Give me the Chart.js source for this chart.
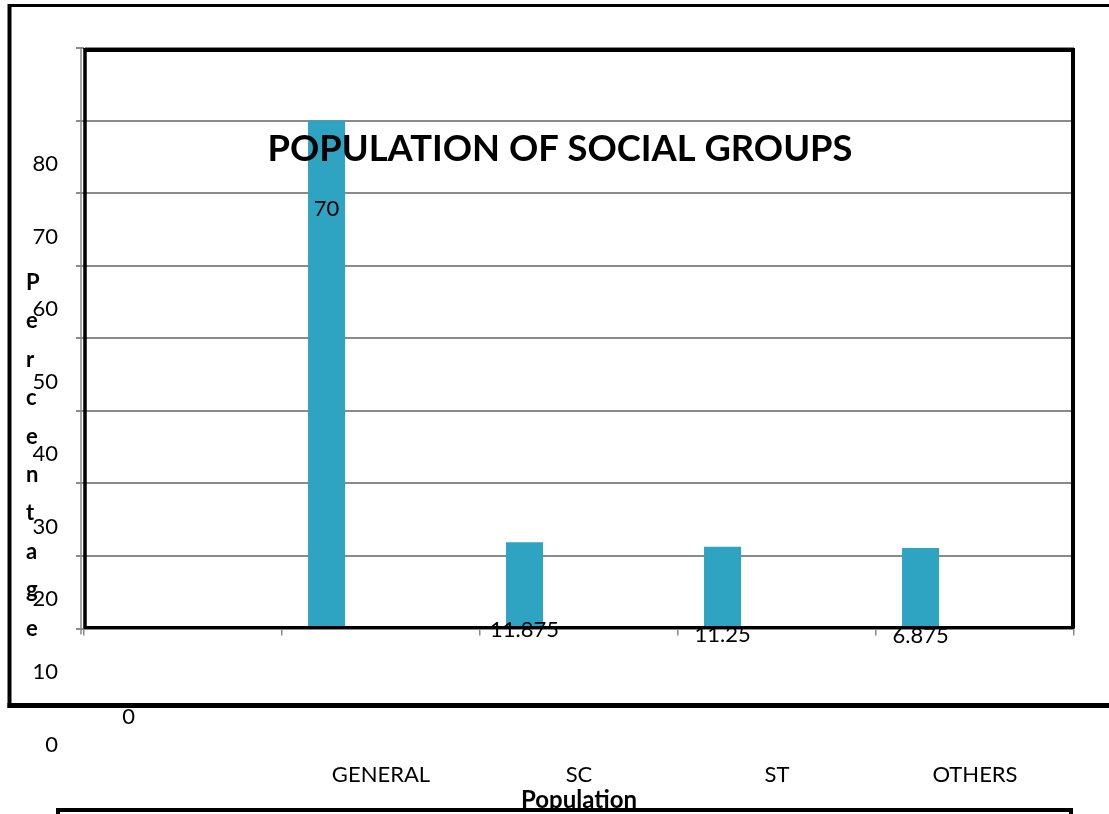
<!DOCTYPE html>
<html>
<head>
<meta charset="utf-8">
<script src="https://cdn.jsdelivr.net/npm/chart.js@4.4.0/dist/chart.umd.min.js"></script>
<style>
  body { margin: 0; background: #fff; }
  canvas { display: block; }
</style>
</head>
<body>
<canvas id="myChart" width="1109" height="814"></canvas>
<script>
// social groups (first slot is empty in the original)
const groups = ["", "GENERAL", "SC", "ST", "OTHERS"];
const barValues = [0, 70, 11.875, 11.25, 11.1];
const valueLabels = ["0", "70", "11.875", "11.25", "6.875"];
const yTicks = [0, 10, 20, 30, 40, 50, 60, 70, 80];
const chartTitle = "POPULATION OF SOCIAL GROUPS";
const yTitle = "Percentage";
const xTitle = "Population";

const font = "Lato";
const gridGrey = "#8a8a8a";

function line(c, x1, y1, x2, y2, w) {
  c.lineWidth = w;
  c.beginPath();
  c.moveTo(x1, y1);
  c.lineTo(x2, y2);
  c.stroke();
}

// boxes round the chart, like the pasted document
const framePlugin = {
  id: "frames",
  afterDraw(chart) {
    const c = chart.ctx;
    const a = chart.chartArea;
    c.save();
    c.strokeStyle = "#000";
    // outer box
    line(c, 8, 5.5, 1109, 5.5, 3);
    line(c, 9.5, 4, 9.5, 708, 4);
    line(c, 7.5, 705.5, 1109, 705.5, 5);
    // plot frame
    line(c, a.left, a.top + 2, a.right, a.top + 2, 4);
    line(c, a.left + 1, a.top, a.left + 1, a.bottom, 3.5);
    line(c, a.right - 1, a.top, a.right - 1, a.bottom, 4);
    line(c, a.left, a.bottom - 1, a.right, a.bottom - 1, 3);
    // grey axis line just left of the frame
    c.strokeStyle = gridGrey;
    line(c, a.left - 3, a.top, a.left - 3, a.bottom + 6, 1.5);
    // legend box below
    c.strokeStyle = "#000";
    line(c, 56, 810, 1073, 810, 4);
    line(c, 58, 808, 58, 814, 4);
    line(c, 1071, 808, 1071, 814, 4);
    c.restore();
  }
};

// value labels + titles
const textPlugin = {
  id: "texts",
  afterDraw(chart) {
    const c = chart.ctx;
    c.save();
    c.fillStyle = "#000";

    c.font = "22px " + font;
    c.textAlign = "center";
    c.textBaseline = "middle";
    chart.getDatasetMeta(0).data.forEach((bar, i) => {
      c.fillText(valueLabels[i], bar.x, bar.y + 88);
    });

    c.font = "bold 36.3px " + font;
    c.fillText(chartTitle, 560, 149);

    c.font = "bold 22px " + font;
    c.textAlign = "left";
    c.textBaseline = "alphabetic";
    yTitle.split("").forEach((ch, i) => {
      c.fillText(ch, 26, 290 + i * 38.4);
    });
    c.restore();
  }
};

const data = {
  labels: groups,
  datasets: [
    {
      data: barValues,
      backgroundColor: "#2ea3c2",
      categoryPercentage: 1.1,
      barPercentage: 0.34,
    },
    {
      // empty series, only keeps the bars to the left of each slot
      data: groups.map(() => null),
      categoryPercentage: 1.1,
      barPercentage: 0.34,
    },
  ],
};

const config = {
  type: "bar",
  data: data,
  options: {
    responsive: false,
    animation: false,
    devicePixelRatio: 1,
    layout: { padding: { left: 0, top: 48, right: 35, bottom: 0 } },
    plugins: {
      legend: { display: false },
      tooltip: { enabled: false },
    },
    scales: {
      y: {
        min: 0,
        max: 80,
        afterBuildTicks(s) { s.ticks = yTicks.map(v => ({ value: v })); },
        afterFit(s) { s.width = 84; s.paddingTop = 0; s.paddingBottom = 0; },
        grid: { color: gridGrey, lineWidth: 2, tickLength: 8 },
        border: { color: gridGrey, width: 1 },
        ticks: {
          labelOffset: 116,
          padding: 18,
          color: "#000",
          font: { family: font, size: 22 },
        },
      },
      x: {
        afterFit(s) { s.height = 185.5; s.paddingLeft = 0; s.paddingRight = 0; },
        grid: { offset: true, drawOnChartArea: false, color: gridGrey, lineWidth: 1.5, tickLength: 7 },
        border: { color: gridGrey, width: 1 },
        ticks: {
          padding: 126,
          color: "#000",
          maxRotation: 0,
          autoSkip: false,
          font: { family: font, size: 22 },
        },
        title: {
          display: true,
          text: xTitle,
          color: "#000",
          font: { family: font, size: 24, weight: "bold" },
          padding: { top: 0, bottom: -1 },
        },
      },
    },
  },
  plugins: [framePlugin, textPlugin],
};

const ctx = document.getElementById("myChart");
new Chart(ctx, config);
</script>
</body>
</html>
